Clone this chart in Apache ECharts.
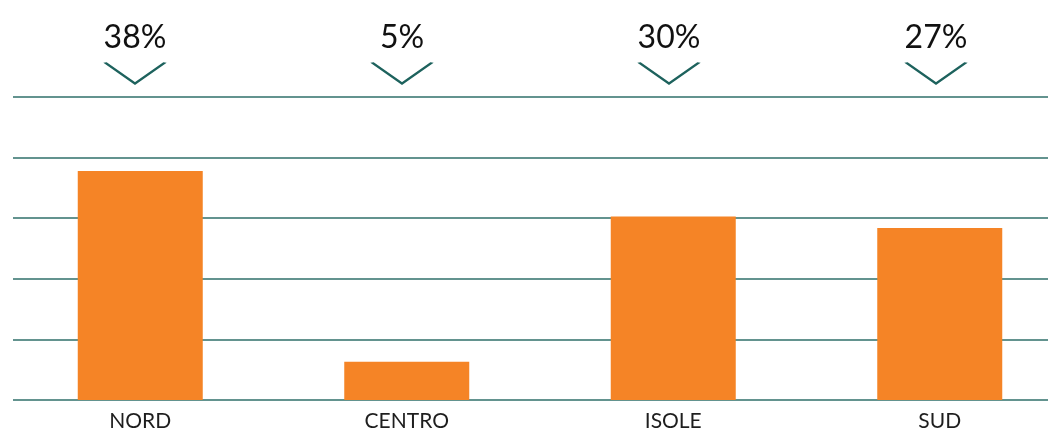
<!DOCTYPE html>
<html>
<head>
<meta charset="utf-8">
<script src="https://cdn.jsdelivr.net/npm/echarts@6/dist/echarts.min.js"></script>
<style>
html,body{margin:0;padding:0;background:#fff;}
#chart{width:1048px;height:433px;}
</style>
</head>
<body>
<div id="chart"></div>
<script>
var categories = ['NORD', 'CENTRO', 'ISOLE', 'SUD'];
var barValues = [37.8, 6.3, 30.3, 28.4];
var percentLabels = ['38%', '5%', '30%', '27%'];

var chart = echarts.init(document.getElementById('chart'));
var teal = '#1d625d';
chart.setOption({
  animation: false,
  grid: [
    {left: 13, right: 0, top: 97, bottom: 33, outerBoundsMode: 'none'},
    {left: 7, width: 1066, top: 97, bottom: 33, outerBoundsMode: 'none'},
    {left: 1.5, width: 1068, top: 60, bottom: 360, outerBoundsMode: 'none'}
  ],
  xAxis: [
    {gridIndex: 0, type: 'category', data: categories, show: false},
    {gridIndex: 1, type: 'category', data: categories,
     axisLine: {show: false}, axisTick: {show: false},
     axisLabel: {fontFamily: 'Lato', fontSize: 21, color: '#1e1e1e', margin: 11}},
    {gridIndex: 2, type: 'category', data: categories, show: false}
  ],
  yAxis: [
    {gridIndex: 0, type: 'value', min: 0, max: 50, interval: 10,
     axisLabel: {show: false}, axisLine: {show: false}, axisTick: {show: false},
     splitLine: {show: true, lineStyle: {color: '#2f6f6a', width: 1.5}}},
    {gridIndex: 1, type: 'value', min: 0, max: 50, interval: 10, show: false, splitLine: {show: false}},
    {gridIndex: 2, type: 'value', min: 0, max: 1, show: false, splitLine: {show: false}}
  ],
  series: [
    {
      type: 'bar', xAxisIndex: 1, yAxisIndex: 1,
      data: barValues, barWidth: 125,
      itemStyle: {color: '#f58426'}
    },
    {
      type: 'scatter', xAxisIndex: 2, yAxisIndex: 2,
      data: percentLabels.map(function (p, i) { return {value: [categories[i], 0], label: {formatter: p}}; }),
      symbol: 'path://M0,0L30,18L60,0',
      symbolSize: [60, 21],
      itemStyle: {color: 'transparent', borderColor: teal, borderWidth: 2.2, opacity: 1},
      label: {show: true, position: 'top', distance: 8, fontFamily: 'Lato', fontSize: 32, color: '#111'}
    }
  ]
});
</script>
</body>
</html>
